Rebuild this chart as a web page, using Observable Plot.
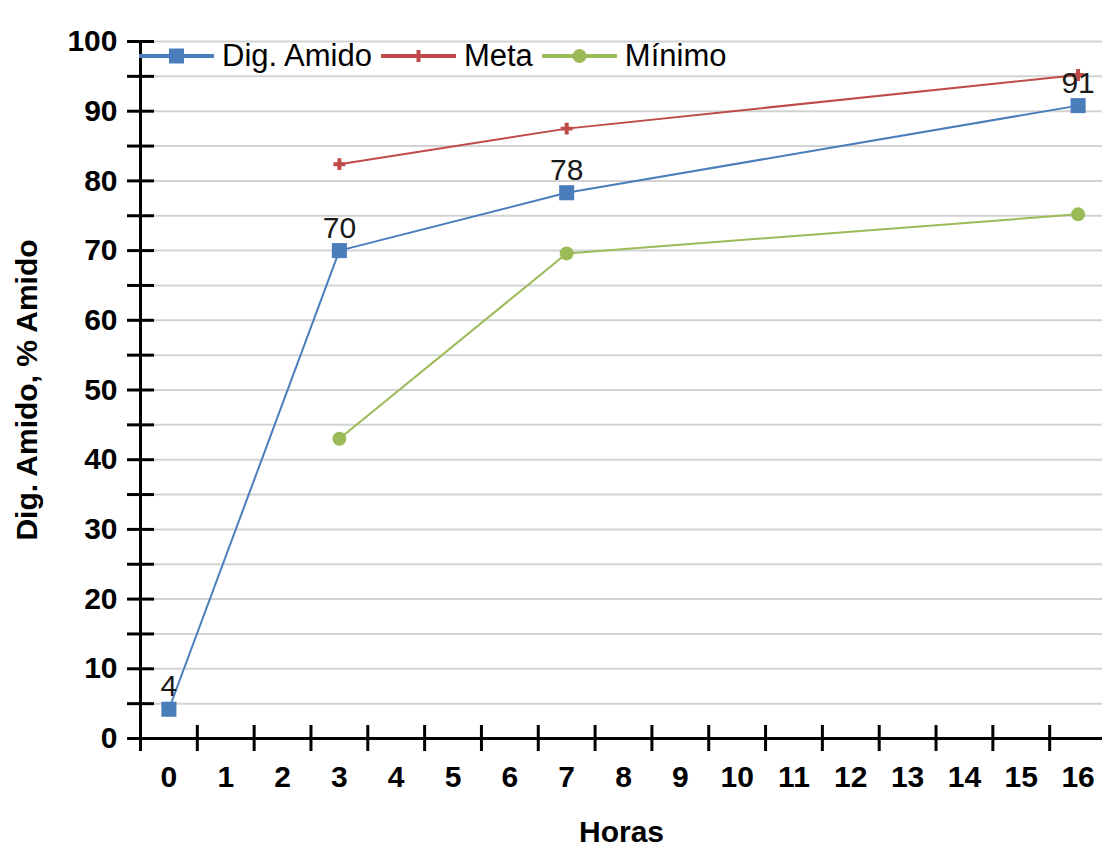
<!DOCTYPE html>
<html><head><meta charset="utf-8">
<script src="https://cdn.jsdelivr.net/npm/d3@7"></script>
<script src="https://cdn.jsdelivr.net/npm/@observablehq/plot@0.6"></script>
<style>
body{margin:0;background:#fff;font-family:"Liberation Sans",Arial,sans-serif;}
#wrap{position:relative;width:1102px;height:847px;overflow:hidden;}
#legend{position:absolute;left:139px;top:40px;display:flex;align-items:center;height:31px;font-size:31px;color:#000;white-space:nowrap;}
#legend .item{display:flex;align-items:center;margin-right:9px;}
#legend svg{margin-right:8px;}
</style></head><body><div id="wrap"></div>
<script>
const horas = ["0","1","2","3","4","5","6","7","8","9","10","11","12","13","14","15","16"];
const pontos = ["0","3","7","16"];
const digAmido = [4.2, 70, 78.3, 90.8];
const meta = [null, 82.4, 87.5, 95.2];
const minimo = [null, 43, 69.6, 75.2];
const rotulos = ["4","70","78","91"];
const yRotulos = [0,10,20,30,40,50,60,70,80,90,100];
const yMarcas = [0,5,10,15,20,25,30,35,40,45,50,55,60,65,70,75,80,85,90,95,100];

const series = [
  {nome:"Dig. Amido", valores:digAmido, cor:"#4A7EBB", simbolo:"square", r:8.5},
  {nome:"Meta", valores:meta, cor:"#BE4B48", simbolo:"cross", r:5},
  {nome:"Mínimo", valores:minimo, cor:"#9BBB59", simbolo:"circle", r:7}
];
const idx = h => horas.indexOf(h);
const linhas = series.map(s => ({...s, dados: pontos.map((p,i)=>({x:idx(p), y:s.valores[i]})).filter(d=>d.y!=null)}));
const limites = horas.map((_,i)=>i-0.5).concat([horas.length-0.5]);
const font = "Liberation Sans, Arial, sans-serif";

const marks = [
  Plot.ruleY(yMarcas.filter(v=>v>0), {x1:-0.5, x2:horas.length-0.5, insetLeft:14, stroke:"#d3d3d3", strokeWidth:2}),
  Plot.ruleX([-0.5], {y1:0, y2:100, stroke:"#000", strokeWidth:3}),
  Plot.ruleY([0], {x1:-0.5, x2:horas.length-0.5, insetLeft:-13, stroke:"#000", strokeWidth:3}),
  Plot.ruleY(yMarcas, {x1:-0.5, x2:-0.5, insetLeft:-13, insetRight:-14, stroke:"#000", strokeWidth:3}),
  Plot.ruleX(limites, {y1:0, y2:0, insetTop:-13, insetBottom:-13, stroke:"#000", strokeWidth:3}),
];
for (const s of linhas) {
  marks.push(Plot.line(s.dados, {x:"x", y:"y", stroke:s.cor, strokeWidth:2}));
}
for (const s of linhas) {
  marks.push(Plot.dot(s.dados, {x:"x", y:"y", symbol:s.simbolo, r:s.r, fill:s.cor, stroke:"none"}));
}
marks.push(Plot.text(pontos.map((p,i)=>({x:idx(p), y:digAmido[i], t:rotulos[i]})), {x:"x", y:"y", text:"t", dy:-13, lineAnchor:"bottom", fontSize:30, fill:"#1a1a1a"}));
marks.push(Plot.axisX(horas.map((_,i)=>i), {tickFormat:i=>horas[i], tickSize:0, tickPadding:27, fontSize:30, fontWeight:"bold", fill:"#000", label:null}));
marks.push(Plot.axisY(yRotulos, {tickSize:0, tickPadding:23, fontSize:30, fontWeight:"bold", fill:"#000", label:null}));
marks.push(Plot.text(["Horas"], {frameAnchor:"bottom", dy:94, lineAnchor:"middle", fontSize:30, fontWeight:"bold", fill:"#000"}));
marks.push(Plot.text(["Dig. Amido, % Amido"], {frameAnchor:"left", dx:-113, rotate:-90, textAnchor:"middle", lineAnchor:"middle", fontSize:30, fontWeight:"bold", fill:"#000"}));

const chart = Plot.plot({
  width:1102, height:847,
  marginLeft:140, marginRight:0, marginTop:41, marginBottom:109,
  x:{domain:[-0.5, horas.length-0.5], range:[140,1106], axis:null},
  y:{domain:[0,100], axis:null},
  style:{fontFamily:font, background:"white", overflow:"visible"},
  marks
});
const wrap = document.getElementById("wrap");
wrap.appendChild(chart);

const legend = document.createElement("div");
legend.id = "legend";
for (const s of series) {
  const item = document.createElement("div");
  item.className = "item";
  const sym = s.simbolo === "square" ? `<rect x="30" y="7.5" width="15" height="15" fill="${s.cor}"/>`
    : s.simbolo === "circle" ? `<circle cx="37.5" cy="15" r="7" fill="${s.cor}"/>`
    : `<path d="M35.5 9h4v4h4v4h-4v4h-4v-4h-4v-4h4z" fill="${s.cor}"/>`;
  item.innerHTML = `<svg width="75" height="30"><line x1="0" x2="75" y1="15" y2="15" stroke="${s.cor}" stroke-width="4"/>${sym}</svg><span>${s.nome}</span>`;
  legend.appendChild(item);
}
wrap.appendChild(legend);
</script></body></html>
